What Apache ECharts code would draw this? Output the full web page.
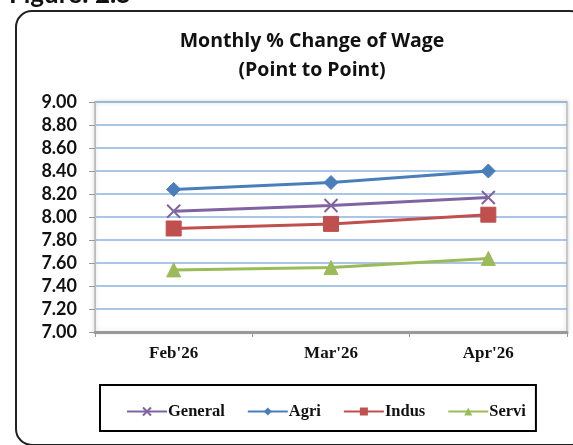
<!DOCTYPE html>
<html><head><meta charset="utf-8">
<script src="https://cdn.jsdelivr.net/npm/echarts@6/dist/echarts.min.js"></script>
<style>html,body{margin:0;padding:0;background:#fff}#c{width:573px;height:445px}</style>
</head><body><div id="c"></div>
<script>
const categories = ["Feb'26", "Mar'26", "Apr'26"];
const general = [8.05, 8.10, 8.17];
const agri = [8.24, 8.30, 8.40];
const indus = [7.90, 7.94, 8.02];
const servi = [7.54, 7.56, 7.64];
const yTicks = { min: 7.0, max: 9.0, interval: 0.2 };

const crossPath = 'path://M0,0L10,10M10,0L0,10';
const chart = echarts.init(document.getElementById('c'), null, {renderer: 'canvas'});
const serif = '"Liberation Serif", "Times New Roman", serif';
const sans = 'Lato, "Open Sans", sans-serif';
function mk(name, data, color, symbol, size, extra) {
  return Object.assign({
    name, type: 'line', data, symbol, symbolSize: size,
    lineStyle: {color, width: 3}, itemStyle: {color, borderColor: color},
    animation: false
  }, extra || {});
}
chart.setOption({
  animation: false,
  title: {
    text: 'Monthly % Change of Wage\n(Point to Point)',
    left: 307, top: 22, textAlign: 'center',
    textStyle: {fontFamily: '"Open Sans", sans-serif', fontWeight: 'bold', fontSize: 19.5, lineHeight: 29, color: '#111'}
  },
  graphic: [
    {type: 'rect', shape: {x: 16, y: 11, width: 570, height: 434, r: 16}, style: {fill: 'none', stroke: '#222', lineWidth: 2}, z: 100},
    {type: 'text', x: 9, y: 8, style: {text: 'Figure: 2.5', font: 'bold 26px Lato, sans-serif', fill: '#111', verticalAlign: 'bottom'}, z: 100}
  ],
  grid: {left: 95, top: 102, right: 6, bottom: 113, show: true, borderColor: '#c8c8c8', borderWidth: 2, backgroundColor: '#fff', shadowColor: 'rgba(0,0,0,0.15)', shadowBlur: 4},
  legend: {
    left: 100, top: 385, width: 455, height: 47,
    itemWidth: 40, itemHeight: 10, itemGap: 22,
    padding: [18, 10, 11, 26],
    borderColor: '#000', borderWidth: 2,
    textStyle: {fontFamily: serif, fontWeight: 'bold', fontSize: 16.5, color: '#111', padding: [0,0,0,-4]},
    data: ['General', 'Agri', 'Indus', 'Servi']
  },
  xAxis: {
    type: 'category', data: categories, boundaryGap: true,
    axisLine: {lineStyle: {color: '#999', width: 3}},
    axisTick: {show: true, length: 5, lineStyle: {color: '#999'}},
    axisLabel: {fontFamily: serif, fontWeight: 'bold', fontSize: 17, color: '#111', margin: 13}
  },
  yAxis: {
    type: 'value', min: yTicks.min, max: yTicks.max, interval: yTicks.interval,
    axisLine: {show: true, lineStyle: {color: '#bbb'}},
    axisTick: {show: true, length: 6, lineStyle: {color: '#999'}},
    splitLine: {lineStyle: {color: '#8db3e2', width: 1.5}},
    axisLabel: {fontFamily: sans, fontWeight: 'bold', fontSize: 18, color: '#111', margin: 18, formatter: v => v.toFixed(2)}
  },
  series: [
    mk('General', general, '#8064a2', crossPath, 13, {itemStyle: {color: '#8064a2', borderColor: '#8064a2', borderWidth: 2}}),
    mk('Agri', agri, '#4a7ebb', 'diamond', 14),
    mk('Indus', indus, '#c0504d', 'rect', 15),
    mk('Servi', servi, '#9bbb59', 'triangle', 14)
  ]
});
</script></body></html>
